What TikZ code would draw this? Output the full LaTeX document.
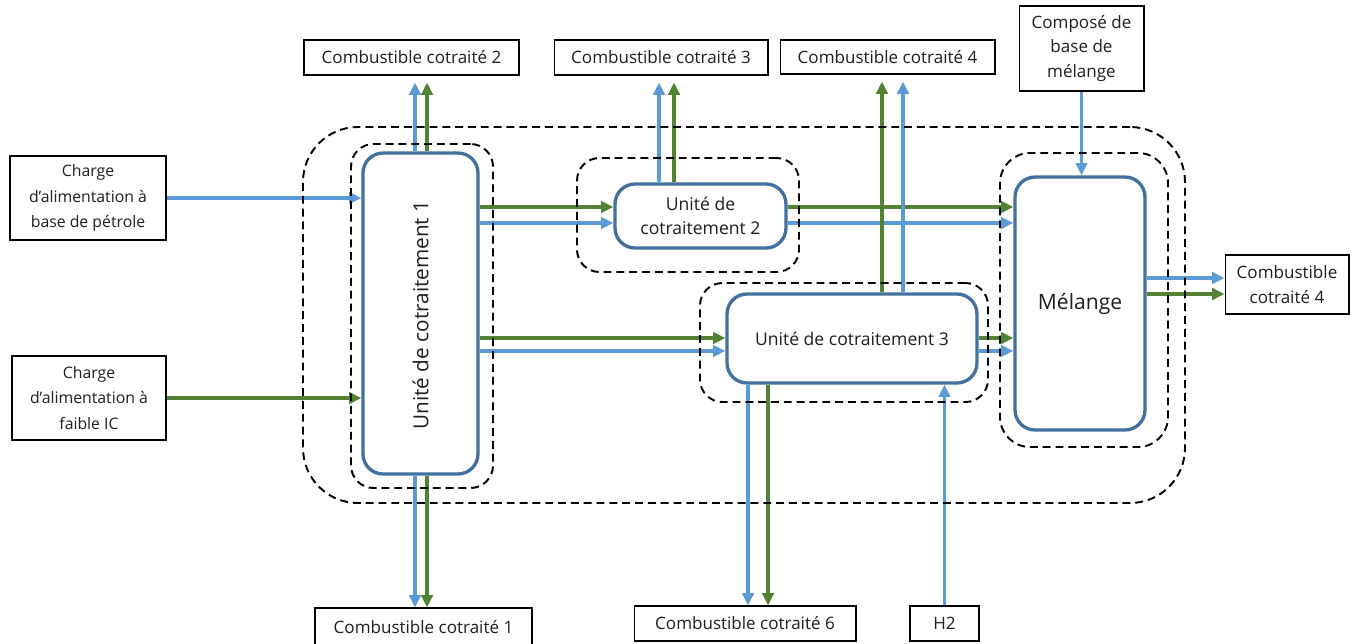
\documentclass[tikz,border=0pt]{standalone}
\usepackage{fontspec}
\setmainfont{Open Sans}
\usetikzlibrary{arrows.meta,fit}
\definecolor{flowblue}{HTML}{5B9BD5}
\definecolor{flowgreen}{HTML}{548235}
\definecolor{unitblue}{HTML}{41719C}
\definecolor{inktext}{HTML}{1E1E1E}

\begin{document}
\begin{tikzpicture}[x=0.02cm,y=-0.02cm,
  ext/.style={draw=black, line width=0.6pt, inner sep=0pt, align=center,
    text=inktext, font=\fontsize{9.7}{13.8}\selectfont},
  feed/.style={ext, font=\fontsize{9}{14.6}\selectfont},
  unit/.style={draw=unitblue, line width=1.9pt, rounded corners=0.4cm,
    inner sep=0pt, align=center, fill=white, text=inktext,
    font=\fontsize{10}{13.6}\selectfont},
  zone/.style={draw=black, line width=1.1pt, dash pattern=on 4.5pt off 2.8pt,
    rounded corners=0.45cm, inner sep=0pt},
  bflow/.style={draw=flowblue, line width=1.8pt, -{Triangle[length=7pt,width=6.5pt]}},
  gflow/.style={draw=flowgreen, line width=1.8pt, -{Triangle[length=7pt,width=6.5pt]}},
  gaptop/.style={shorten >=0.14cm}]
\useasboundingbox (0,0) rectangle (1351,643);

% feeds and products
\node[feed, minimum width=3.12cm, minimum height=1.68cm] (pet) at (88,198)
  {Charge\\d'alimentation à\\base de pétrole};
\node[feed, minimum width=3.08cm, minimum height=1.68cm] (faible) at (89,398)
  {Charge\\d’alimentation à\\faible IC};
\node[ext, minimum width=4.3cm, minimum height=0.7cm] (c2) at (411.5,57.5) {Combustible cotraité 2};
\node[ext, minimum width=4.28cm, minimum height=0.7cm] (c3) at (661,57.5) {Combustible cotraité 3};
\node[ext, minimum width=4.3cm, minimum height=0.68cm] (c4a) at (887.5,57) {Combustible cotraité 4};
\node[ext, minimum width=2.5cm, minimum height=1.7cm] (comp) at (1081.5,48.5)
  {Composé de\\base de\\mélange};
\node[ext, minimum width=2.48cm, minimum height=1.18cm] (c4b) at (1287,284.5)
  {Combustible\\cotraité 4};
\node[ext, minimum width=4.34cm, minimum height=0.76cm] (c1) at (423.5,627) {Combustible cotraité 1};
\node[ext, minimum width=4.44cm, minimum height=0.7cm] (c6) at (745,623.5) {Combustible cotraité 6};
\node[ext, minimum width=1.38cm, minimum height=0.7cm] (h2) at (944.5,623.5) {H2};

% co-processing units and blending
\node[unit, minimum width=2.3cm, minimum height=6.42cm] (u1) at (420.5,313.5) {};
\node[rotate=90, text=inktext, font=\fontsize{11.8}{14}\selectfont] (u1t) at ([yshift=-0.03cm]u1.center)
  {Unité de cotraitement 1};
\node[unit, minimum width=3.42cm, minimum height=1.28cm] (u2) at (700.5,216) {Unité de\\cotraitement 2};
\node[unit, minimum width=5cm, minimum height=1.78cm] (u3) at (852,338.5) {Unité de cotraitement 3};
\node[unit, minimum width=2.6cm, minimum height=5.06cm, font=\fontsize{12}{14}\selectfont]
  (mel) at (1080,303.5) {Mélange};

% horizontal rails
\coordinate (g2) at ([yshift=0.18cm]u2.west);
\coordinate (b2) at ([yshift=-0.14cm]u2.west);
\coordinate (g3) at ([yshift=0.01cm]u3.west);
\coordinate (b3) at ([yshift=-0.25cm]u3.west);

% feeds into unit 1
\draw[bflow] (pet.east) -- (u1.west |- pet.east);
\draw[gflow] (faible.east) -- (u1.west |- faible.east);

% unit 1 outlets
\draw[bflow, gaptop] ([xshift=-0.11cm]u1.north) -- ([xshift=-0.11cm]u1.north |- c2.south);
\draw[gflow, gaptop] ([xshift=0.13cm]u1.north) -- ([xshift=0.13cm]u1.north |- c2.south);
\draw[bflow] ([xshift=-0.11cm]u1.south) -- ([xshift=-0.11cm]u1.south |- c1.north);
\draw[gflow] ([xshift=0.13cm]u1.south) -- ([xshift=0.13cm]u1.south |- c1.north);
\draw[gflow] (u1.east |- g2) -- (g2);
\draw[bflow] (u1.east |- b2) -- (b2);
\draw[gflow] (u1.east |- g3) -- (g3);
\draw[bflow] (u1.east |- b3) -- (b3);

% unit 2 outlets
\draw[bflow, gaptop] ([xshift=-0.83cm]u2.north) -- ([xshift=-0.83cm]u2.north |- c3.south);
\draw[gflow, gaptop] ([xshift=-0.53cm]u2.north) -- ([xshift=-0.53cm]u2.north |- c3.south);
\draw[gflow] (u2.east |- g2) -- (mel.west |- g2);
\draw[bflow] (u2.east |- b2) -- (mel.west |- b2);

% unit 3 outlets and hydrogen
\draw[gflow, gaptop] ([xshift=0.6cm]u3.north) -- ([xshift=0.6cm]u3.north |- c4a.south);
\draw[bflow, gaptop] ([xshift=1.02cm]u3.north) -- ([xshift=1.02cm]u3.north |- c4a.south);
\draw[gflow] (u3.east |- g3) -- (mel.west |- g3);
\draw[bflow] (u3.east |- b3) -- (mel.west |- b3);
\draw[bflow] ([xshift=-2.08cm]u3.south) -- ([xshift=-2.08cm]u3.south |- c6.north);
\draw[gflow] ([xshift=-1.68cm]u3.south) -- ([xshift=-1.68cm]u3.south |- c6.north);
\draw[bflow] (h2.north) -- (h2.north |- u3.south);

% blending
\draw[bflow] (comp.south) -- (comp.south |- mel.north);
\draw[bflow] ([yshift=0.13cm]c4b.west -| mel.east) -- ([yshift=0.13cm]c4b.west);
\draw[gflow] ([yshift=-0.19cm]c4b.west -| mel.east) -- ([yshift=-0.19cm]c4b.west);

% process boundaries
\node[zone, fit={(351,144) (493,488)}] (z1) {};
\node[zone, fit={(577,158) (799,272)}] (z2) {};
\node[zone, fit={(700,283) (988,402)}] (z3) {};
\node[zone, fit={(1000,153) (1168,447)}, rounded corners=0.6cm] (zm) {};
\node[zone, fit={(303,127) (1185,503)}, rounded corners=1.1cm] (zall) {};
\end{tikzpicture}
\end{document}
